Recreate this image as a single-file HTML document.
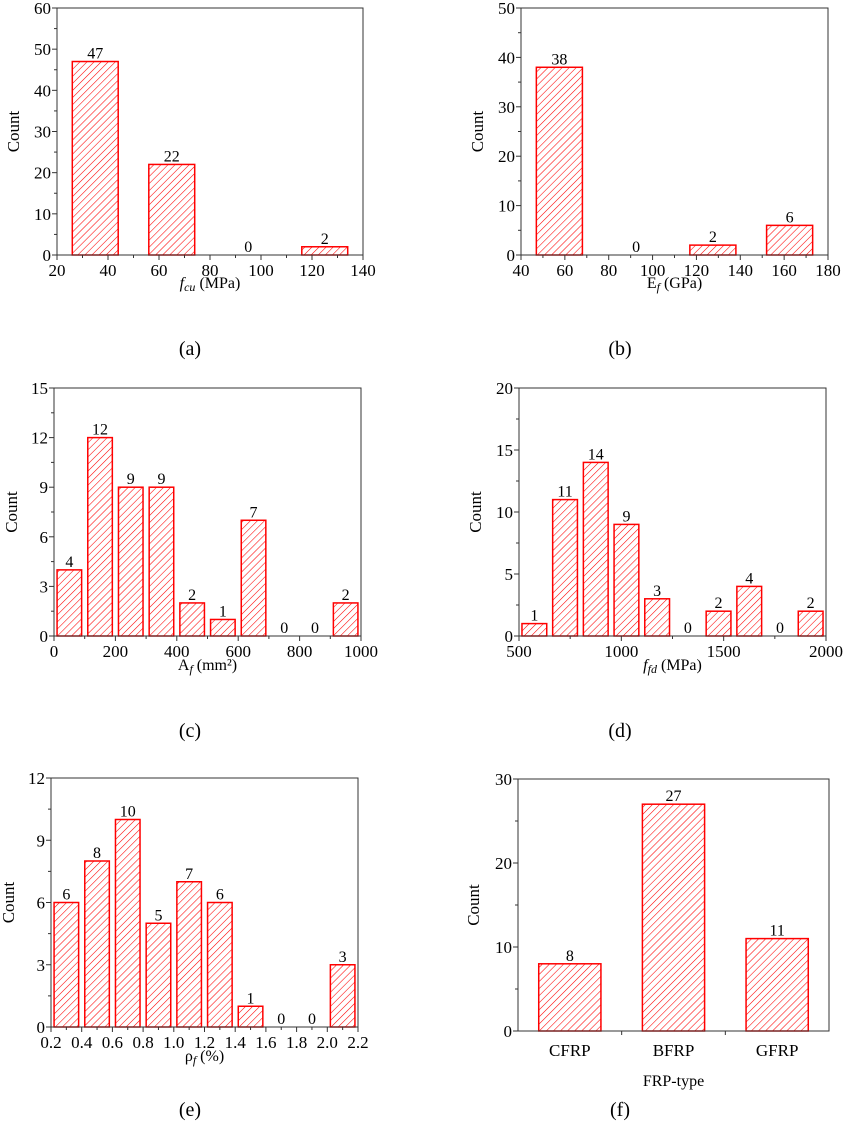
<!DOCTYPE html>
<html><head><meta charset="utf-8">
<style>
body{margin:0;background:#fff;}
svg{display:block;font-family:"Liberation Serif",serif;}
</style></head>
<body>
<svg id="fig" width="844" height="1132" viewBox="0 0 844 1132" xmlns="http://www.w3.org/2000/svg">
<defs>
<pattern id="hatch" patternUnits="userSpaceOnUse" width="5" height="5" patternTransform="rotate(45)">
<line x1="0" y1="0" x2="0" y2="5" stroke="#ff0000" stroke-width="1.1"/>
</pattern>
</defs>
</svg>
<script>
// Panel (a) fcu
const aCenters=[35,65,95,125];
const aValues=[47,22,0,2];
// Panel (b) Ef
const bCenters=[57.5,92.5,127.5,162.5];
const bValues=[38,0,2,6];
// Panel (c) Af
const cCenters=[50,150,250,350,450,550,650,750,850,950];
const cValues=[4,12,9,9,2,1,7,0,0,2];
// Panel (d) ffd
const dCenters=[575,725,875,1025,1175,1325,1475,1625,1775,1925];
const dValues=[1,11,14,9,3,0,2,4,0,2];
// Panel (e) rho
const eCenters=[0.3,0.5,0.7,0.9,1.1,1.3,1.5,1.7,1.9,2.1];
const eValues=[6,8,10,5,7,6,1,0,0,3];
// Panel (f) FRP type
const fCategories=["CFRP","BFRP","GFRP"];
const fValues=[8,27,11];
// tick labels
const aXTicks=[20,40,60,80,100,120,140], aYTicks=[0,10,20,30,40,50,60];
const bXTicks=[40,60,80,100,120,140,160,180], bYTicks=[0,10,20,30,40,50];
const cXTicks=[0,200,400,600,800,1000], cYTicks=[0,3,6,9,12,15];
const dXTicks=[500,1000,1500,2000], dYTicks=[0,5,10,15,20];
const eXTicks=["0.2","0.4","0.6","0.8","1.0","1.2","1.4","1.6","1.8","2.0","2.2"], eYTicks=[0,3,6,9,12];
const fYTicks=[0,10,20,30];

const NS="http://www.w3.org/2000/svg";
const svg=document.getElementById('fig');
function el(tag,attrs,parent){const e=document.createElementNS(NS,tag);for(const k in attrs)e.setAttribute(k,attrs[k]);(parent||svg).appendChild(e);return e;}

function panel(o){
  const g=el('g',{});
  
  
  const X=v=>o.x0+(v-o.xmin)/(o.xmax-o.xmin)*(o.x1-o.x0);
  const Y=v=>o.y1-(v-o.ymin)/(o.ymax-o.ymin)*(o.y1-o.y0);
  o.centers.forEach((c,i)=>{
    const v=o.values[i];
    const xl=X(c-o.bw/2), xr=X(c+o.bw/2);
    if(v>0){
      const r=el('rect',{x:xl,y:Y(v),width:xr-xl,height:Y(0)-Y(v),fill:'url(#hatch)',stroke:'#ff0000','stroke-width':1.5},g);
      
      
    }
    const t=el('text',{x:(xl+xr)/2,y:Y(v)-3,'text-anchor':'middle','font-size':16},g);
    t.textContent=v;
    
    
  });
  el('rect',{x:o.x0,y:o.y0,width:o.x1-o.x0,height:o.y1-o.y0,fill:'none',stroke:'#333','stroke-width':1},g);
  o.yticks.forEach((v,i)=>{
    const y=Y(v);
    el('line',{x1:o.x0-5,x2:o.x0,y1:y,y2:y,stroke:'#333'},g);
    if(i<o.yticks.length-1){const ym=Y(v+(o.yticks[1]-o.yticks[0])/2);el('line',{x1:o.x0-3,x2:o.x0,y1:ym,y2:ym,stroke:'#333'},g);}
    const t=el('text',{x:o.x0-6,y:y+6,'text-anchor':'end','font-size':17},g);
    t.textContent=v;
    
    
  });
  if(o.xticks){
    const step=(parseFloat(o.xticks[1])-parseFloat(o.xticks[0]));
    o.xticks.forEach((s,i)=>{
      const v=parseFloat(s);const x=X(v);
      el('line',{x1:x,x2:x,y1:o.y1,y2:o.y1+5,stroke:'#333'},g);
      if(i<o.xticks.length-1){const xm=X(v+step/2);el('line',{x1:xm,x2:xm,y1:o.y1,y2:o.y1+3,stroke:'#333'},g);}
      const t=el('text',{x:x,y:o.y1+21,'text-anchor':'middle','font-size':17},g);
      t.textContent=s;
      
      
    });
  }
  const yt=el('text',{x:o.ytx,y:(o.y0+o.y1)/2,'text-anchor':'middle','font-size':17,transform:`rotate(-90 ${o.ytx} ${(o.y0+o.y1)/2})`},g);
  yt.textContent='Count';
  
  
  const xt=el('text',{x:(o.x0+o.x1)/2,y:o.xty,'text-anchor':'middle','font-size':16},g);
  xt.innerHTML=o.xtitle;
  
  
  const pl=el('text',{x:o.plx,y:o.ply,'text-anchor':'middle','font-size':20},g);
  pl.textContent='('+o.id+')';
  
  
  return {X,Y,g};
}

panel({id:'a',x0:57,x1:363,y0:8,y1:255,xmin:20,xmax:140,ymin:0,ymax:60,bw:18,centers:aCenters,values:aValues,xticks:aXTicks,yticks:aYTicks,ytx:19,xty:288,xtitle:'<tspan font-style="italic">f</tspan><tspan font-style="italic" font-size="12" dy="3">cu</tspan><tspan dy="-3"> (MPa)</tspan>',plx:190,ply:355});
panel({id:'b',x0:521,x1:828,y0:8,y1:255,xmin:40,xmax:180,ymin:0,ymax:50,bw:21,centers:bCenters,values:bValues,xticks:bXTicks,yticks:bYTicks,ytx:483,xty:288,xtitle:'E<tspan font-style="italic" font-size="12" dy="3">f</tspan><tspan dy="-3"> (GPa)</tspan>',plx:620,ply:355});
panel({id:'c',x0:54,x1:361,y0:388,y1:636,xmin:0,xmax:1000,ymin:0,ymax:15,bw:80,centers:cCenters,values:cValues,xticks:cXTicks,yticks:cYTicks,ytx:17,xty:670,xtitle:'A<tspan font-style="italic" font-size="12" dy="3">f</tspan><tspan dy="-3"> (mm²)</tspan>',plx:190,ply:737});
panel({id:'d',x0:519,x1:826,y0:388,y1:636,xmin:500,xmax:2000,ymin:0,ymax:20,bw:121,centers:dCenters,values:dValues,xticks:dXTicks,yticks:dYTicks,ytx:481,xty:670,xtitle:'<tspan font-style="italic">f</tspan><tspan font-style="italic" font-size="12" dy="3">fd</tspan><tspan dy="-3"> (MPa)</tspan>',plx:620,ply:737});
panel({id:'e',x0:51,x1:358,y0:778,y1:1027,xmin:0.2,xmax:2.2,ymin:0,ymax:12,bw:0.16,centers:eCenters,values:eValues,xticks:eXTicks,yticks:eYTicks,ytx:14,xty:1061,xtitle:'ρ<tspan font-style="italic" font-size="12" dy="3">f</tspan><tspan dy="-3"> (%)</tspan>',plx:190,ply:1116});
const fIdx=fCategories.map((c,i)=>i+0.5);
const pf=panel({id:'f',x0:518,x1:829,y0:779,y1:1031,xmin:0,xmax:3,ymin:0,ymax:30,bw:0.6,centers:fIdx,values:fValues,xticks:null,yticks:fYTicks,ytx:479,xty:1086,xtitle:'FRP-type',plx:620,ply:1116});
fCategories.forEach((c,i)=>{
  const x=pf.X(i+0.5);
  const t=el('text',{x:x,y:1056,'text-anchor':'middle','font-size':17},pf.g);
  t.textContent=c;
  
  
  if(i>0){const xb=pf.X(i);el('line',{x1:xb,x2:xb,y1:1031,y2:1035,stroke:'#333'},pf.g);}
});
</script>
</body></html>
